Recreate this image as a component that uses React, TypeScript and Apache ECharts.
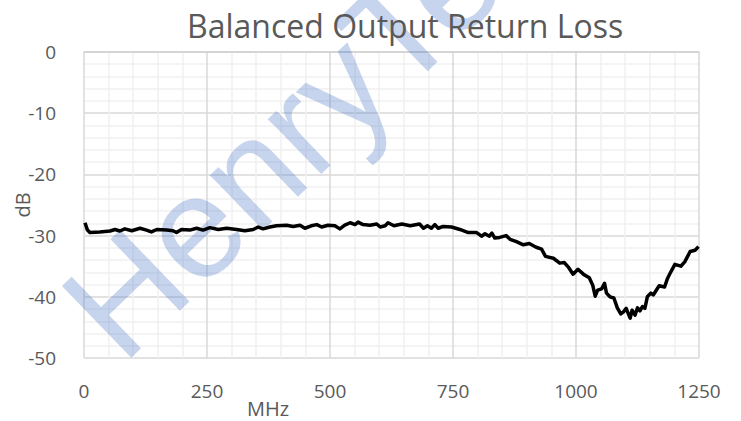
import React, { useEffect, useRef } from "react";
import * as echarts from "echarts";

// Frequency points (MHz)
const freqMHz = [
  2, 7, 12, 32, 53, 63, 73, 83, 97, 114, 127, 137, 148, 168, 181, 188, 198, 215, 229, 242,
  256, 273, 290, 310, 327, 344, 354, 364, 378, 391, 412, 425, 439, 449, 462, 473, 483, 496,
  510, 520, 530, 541, 551, 557, 567, 581, 595, 602, 612, 618, 630, 646, 663, 682, 690, 698,
  706, 713, 720, 730, 747, 764, 781, 798, 808, 815, 824, 829, 835, 845, 858, 866, 879, 893,
  905, 919, 930, 938, 954, 967, 976, 984, 994, 1004, 1015, 1027, 1034, 1039, 1044, 1052,
  1058, 1062, 1069, 1077, 1084, 1091, 1096, 1102, 1106, 1110, 1114, 1120, 1125, 1130, 1135,
  1140, 1145, 1152, 1157, 1169, 1180, 1186, 1191, 1201, 1213, 1221, 1232, 1242, 1249,
];

// Return loss (dB)
const returnLossDb = [
  -27.9, -29.1, -29.5, -29.4, -29.25, -29.0, -29.25, -28.9, -29.2, -28.8, -29.1, -29.4, -29.0,
  -29.1, -29.2, -29.5, -29.0, -29.1, -28.8, -29.1, -28.7, -29.0, -28.8, -29.0, -29.2, -29.0,
  -28.6, -28.9, -28.6, -28.4, -28.3, -28.5, -28.3, -28.8, -28.4, -28.2, -28.6, -28.3, -28.4,
  -28.9, -28.3, -27.9, -28.2, -27.8, -28.2, -28.3, -28.1, -28.6, -28.4, -27.9, -28.4, -28.1,
  -28.4, -28.1, -28.8, -28.4, -28.8, -28.2, -28.8, -28.5, -28.6, -29.0, -29.5, -29.5, -30.1,
  -29.7, -30.1, -29.6, -30.4, -30.3, -30.0, -30.6, -31.0, -31.5, -31.3, -31.9, -32.2, -33.4,
  -33.7, -34.5, -34.4, -35.1, -36.3, -35.5, -36.3, -36.9, -38.1, -39.9, -38.9, -38.7, -37.8,
  -39.4, -40.0, -40.2, -41.8, -42.8, -42.5, -41.9, -42.7, -43.5, -42.2, -43.0, -41.8, -42.3,
  -41.6, -41.9, -40.0, -39.4, -39.7, -38.2, -38.4, -37.0, -36.2, -34.7, -35.0, -34.3, -32.6,
  -32.4, -31.8,
];

const titleText = "Balanced Output Return Loss";
const xAxisTitle = "MHz";
const yAxisTitle = "dB";
const watermarkText = "HenryTe";

const FONT = "'Open Sans', 'Noto Sans', sans-serif";
const LABEL_COLOR = "#595959";

export default function App() {
  const ref = useRef<HTMLDivElement>(null);

  useEffect(() => {
    if (!ref.current) return;
    const chart = echarts.init(ref.current, undefined, { renderer: "svg" });
    const data = freqMHz.map((f, i) => [f, returnLossDb[i]]);
    chart.setOption({
      animation: false,
      backgroundColor: "#ffffff",
      title: {
        text: titleText,
        left: 187,
        top: 9,
        padding: 0,
        textStyle: {
          fontFamily: FONT,
          fontSize: 32,
          fontWeight: "normal",
          color: LABEL_COLOR,
        },
      },
      grid: {
        left: 84,
        right: 42,
        top: 52,
        bottom: 63,
        containLabel: false,
        outerBoundsMode: "none",
      },
      xAxis: {
        type: "value",
        min: 0,
        max: 1250,
        interval: 250,
        axisLine: { show: true, lineStyle: { color: "#d0d0d0", width: 1.5 } },
        axisTick: { show: false },
        axisLabel: {
          margin: 23,
          fontFamily: FONT,
          fontSize: 19,
          color: LABEL_COLOR,
          formatter: (v: number) => String(v),
        },
        splitLine: { show: true, lineStyle: { color: "#d9d9d9", width: 1.5 } },
        minorTick: { show: false, splitNumber: 5 },
        minorSplitLine: { show: true, lineStyle: { color: "#f0f0f0", width: 1.5 } },
      },
      yAxis: {
        type: "value",
        min: -50,
        max: 0,
        interval: 10,
        name: yAxisTitle,
        nameLocation: "middle",
        nameGap: 52,
        nameMoveOverlap: false,
        nameTextStyle: { fontFamily: FONT, fontSize: 20, color: LABEL_COLOR },
        axisLine: { show: false },
        axisTick: { show: false },
        axisLabel: {
          margin: 28,
          fontFamily: FONT,
          fontSize: 19,
          color: LABEL_COLOR,
          formatter: (v: number) => String(v),
        },
        splitLine: { show: true, lineStyle: { color: "#d9d9d9", width: 1.5 } },
        minorTick: { show: false, splitNumber: 5 },
        minorSplitLine: { show: true, lineStyle: { color: "#f0f0f0", width: 1.5 } },
      },
      graphic: [
        {
          type: "text",
          x: 268,
          y: 408,
          style: {
            text: xAxisTitle,
            fontFamily: FONT,
            fontSize: 20,
            fill: LABEL_COLOR,
            textAlign: "center",
            textVerticalAlign: "middle",
          },
        },
        {
          type: "text",
          x: 88,
          y: 330,
          rotation: (44 * Math.PI) / 180,
          z: 1,
          silent: true,
          style: {
            text: watermarkText,
            fontFamily: "'Liberation Sans', Arial, sans-serif",
            fontSize: 145,
            fill: "rgba(68, 114, 196, 0.3)",
            textAlign: "left",
            textVerticalAlign: "middle",
          },
        },
      ],
      series: [
        {
          type: "line",
          data,
          showSymbol: false,
          symbol: "none",
          z: 3,
          lineStyle: { color: "#000000", width: 3.5, join: "round" },
        },
      ],
    });
    return () => chart.dispose();
  }, []);

  return (
    <div
      ref={ref}
      style={{ position: "fixed", left: 0, top: 0, width: 741, height: 421 }}
    />
  );
}
